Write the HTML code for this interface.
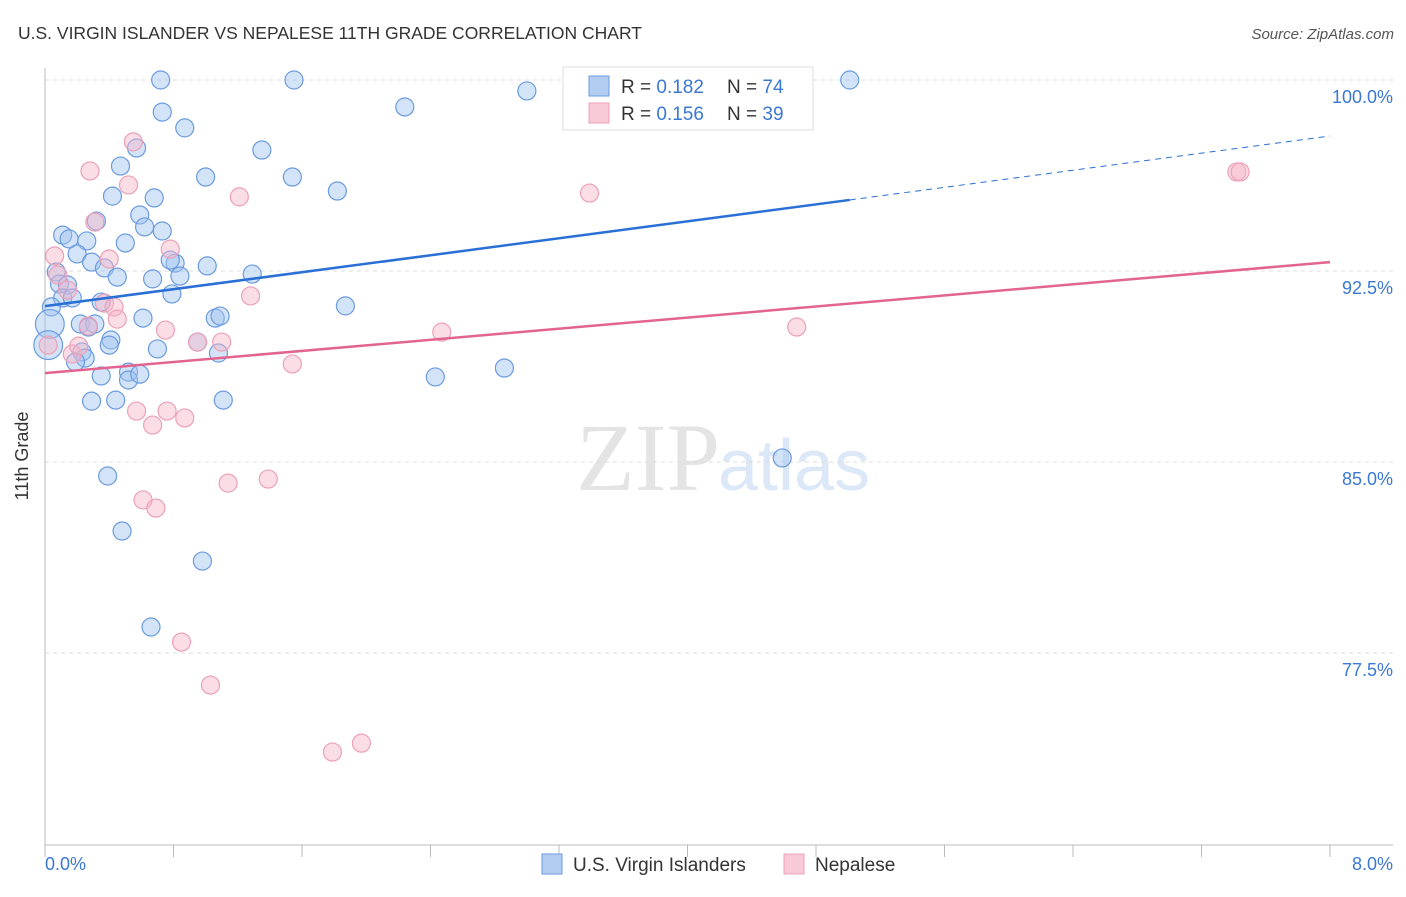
<!DOCTYPE html>
<html><head><meta charset="utf-8"><style>
body{margin:0;background:#fff;font-family:"Liberation Sans",sans-serif}
</style></head><body>
<svg id="c" width="1406" height="892" xmlns="http://www.w3.org/2000/svg">
<text x="18" y="39" font-size="17.5" fill="#333">U.S. VIRGIN ISLANDER VS NEPALESE 11TH GRADE CORRELATION CHART</text>
<text x="1394" y="39" font-size="15" fill="#555" font-style="italic" text-anchor="end">Source: ZipAtlas.com</text>
<text x="720" y="490" font-size="96" fill="#e4e4e4" text-anchor="end" font-family="Liberation Serif,serif">ZIP</text>
<text x="718" y="490" font-size="72" fill="#dce8f7">atlas</text>
<g id="grid"></g><g id="pts"></g><g id="lines"></g>
<text x="28" y="456" font-size="18" fill="#333" transform="rotate(-90 28 456)" text-anchor="middle">11th Grade</text>
<text x="45" y="870" font-size="18" fill="#3a78d4">0.0%</text>
<text x="1393" y="870" font-size="18" fill="#3a78d4" text-anchor="end">8.0%</text>
<g>
<rect x="563" y="67" width="250" height="63" fill="#fff" stroke="#ddd"/>
<rect x="589" y="76" width="20" height="20" fill="#b3cdf2" stroke="#6a9be0"/>
<rect x="589" y="103" width="20" height="20" fill="#f8c9d6" stroke="#eca0b8"/>
<text x="621" y="93" font-size="19" fill="#333">R = <tspan fill="#3a78d4">0.182</tspan></text>
<text x="727" y="93" font-size="19" fill="#333">N = <tspan fill="#3a78d4">74</tspan></text>
<text x="621" y="120" font-size="19" fill="#333">R = <tspan fill="#3a78d4">0.156</tspan></text>
<text x="727" y="120" font-size="19" fill="#333">N = <tspan fill="#3a78d4">39</tspan></text>
</g>
<g>
<rect x="542" y="854" width="20" height="20" fill="#b3cdf2" stroke="#6a9be0"/>
<text x="573" y="871" font-size="19" fill="#333">U.S. Virgin Islanders</text>
<rect x="784" y="854" width="20" height="20" fill="#f8c9d6" stroke="#eca0b8"/>
<text x="815" y="871" font-size="19" fill="#333">Nepalese</text>
</g>
</svg>
<script>
const yTicks=[100,92.5,85,77.5];
const yTickLabels=["100.0%","92.5%","85.0%","77.5%"];
const xTicks=[0,0.8,1.6,2.4,3.2,4,4.8,5.6,6.4,7.2,8];
const blueX=[0.72,1.55,5.01,3.00,2.24,0.73,0.87,0.57,1.35,0.47,1.00,1.54,0.42,0.68,1.82,0.59,0.32,0.73,0.62,0.11,0.15,0.26,0.50,0.20,0.29,0.37,0.45,0.81,0.78,0.84,0.67,1.01,1.29,0.07,0.09,0.14,0.11,0.17,0.04,0.35,0.79,1.87,0.61,1.06,1.09,0.22,0.31,0.27,0.03,0.41,0.40,0.70,0.95,1.08,0.02,0.23,0.25,0.19,0.35,0.52,0.52,0.59,2.43,2.86,0.29,0.44,1.11,0.39,4.59,0.48,0.98,0.66];
const blueY=[100,100,100,99.57,98.94,98.74,98.12,97.33,97.25,96.62,96.19,96.19,95.44,95.37,95.64,94.70,94.46,94.07,94.23,93.91,93.76,93.68,93.60,93.17,92.85,92.62,92.26,92.81,92.93,92.30,92.19,92.70,92.38,92.46,91.99,91.95,91.44,91.44,91.09,91.28,91.60,91.13,90.65,90.65,90.73,90.42,90.42,90.30,90.42,89.79,89.59,89.44,89.71,89.28,89.59,89.32,89.08,88.93,88.38,88.53,88.22,88.45,88.34,88.69,87.39,87.43,87.43,84.45,85.16,82.29,81.11,78.52];
const blueSize=blueX.map((x,i)=>(i===48||i===54)?1.6:1);
const pinkX=[0.06,0.28,0.55,0.52,0.31,1.21,3.39,7.42,0.78,0.40,0.08,0.14,0.37,0.43,0.45,1.28,0.27,0.75,2.47,4.68,0.95,1.10,0.02,0.17,0.21,1.54,0.57,0.76,0.87,0.67,0.61,0.69,1.14,1.39,0.85,1.03,1.79,1.97,7.44];
const pinkY=[93.09,96.43,97.57,95.88,94.42,95.41,95.56,96.39,93.36,92.97,92.34,91.75,91.24,91.09,90.61,91.52,90.34,90.18,90.10,90.30,89.71,89.71,89.59,89.24,89.55,88.85,87.00,87.00,86.73,86.45,83.51,83.19,84.17,84.33,77.93,76.24,73.61,73.96,96.39];
const blueTrend=[[0,91.12],[5.01,95.29],[8,97.8]];
const pinkTrend=[[0,88.49],[8,92.85]];
const X=v=>45+v/8*1285, Y=v=>80+(100-v)/7.5*191;
const NS="http://www.w3.org/2000/svg";
function mk(t,a,p){const e=document.createElementNS(NS,t);for(const k in a)e.setAttribute(k,a[k]);p.appendChild(e);return e;}
const g=document.getElementById('grid');
yTicks.forEach((t,i)=>{
 const l=mk('line',{x1:45,x2:1393,y1:Y(t),y2:Y(t),stroke:'#ddd','stroke-dasharray':'4,4'},g);
 
 
 const tx=mk('text',{x:1393,y:Y(t)+23,'font-size':18,fill:'#3a78d4','text-anchor':'end'},g);tx.textContent=yTickLabels[i];
 
 
});
mk('line',{x1:45,x2:45,y1:68,y2:845,stroke:'#bbb'},g);
mk('line',{x1:45,x2:1393,y1:845,y2:845,stroke:'#bbb'},g);
xTicks.forEach(t=>{const l=mk('line',{x1:X(t),x2:X(t),y1:845,y2:857,stroke:'#bbb'},g);
 
 });
const p=document.getElementById('pts');
function dots(xs,ys,sz,fill,stroke,name){xs.forEach((x,i)=>{const c=mk('circle',{cx:X(x),cy:Y(ys[i]),r:9*(sz?sz[i]:1),fill:fill,stroke:stroke,'stroke-width':1.2},p);
 
 });}
dots(blueX,blueY,blueSize,'rgba(160,196,240,0.45)','#6a9be0','virgin-islander-point');
dots(pinkX,pinkY,null,'rgba(247,180,200,0.45)','#eca0b8','nepalese-point');
const L=document.getElementById('lines');
let a=mk('line',{x1:X(blueTrend[0][0]),y1:Y(blueTrend[0][1]),x2:X(blueTrend[1][0]),y2:Y(blueTrend[1][1]),stroke:'#2a6fd6','stroke-width':2.5},L);


let b=mk('line',{x1:X(blueTrend[1][0]),y1:Y(blueTrend[1][1]),x2:X(blueTrend[2][0]),y2:Y(blueTrend[2][1]),stroke:'#2a6fd6','stroke-width':1,'stroke-dasharray':'6,5'},L);


let c=mk('line',{x1:X(pinkTrend[0][0]),y1:Y(pinkTrend[0][1]),x2:X(pinkTrend[1][0]),y2:Y(pinkTrend[1][1]),stroke:'#e3648f','stroke-width':2.5},L);


</script>
</body></html>
